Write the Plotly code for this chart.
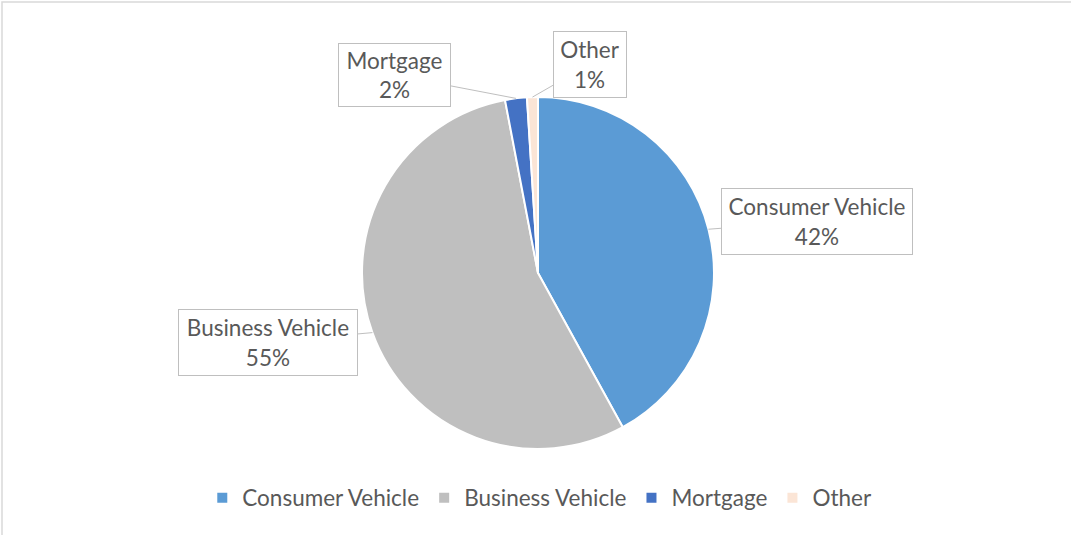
import math
import plotly.graph_objects as go

# Loan portfolio composition
categories = ["Consumer Vehicle", "Business Vehicle", "Mortgage", "Other"]
shares = [42, 55, 2, 1]
colors = ["#5B9BD5", "#BFBFBF", "#4472C4", "#FBE5D6"]

W, H = 1071, 535
FONT = "Lato"
FONT_SIZE = 22.5
TEXT_COLOR = "#595959"

# pie placement (pixels)
cx, cy, r = 538, 273, 176

# callout box centres and sizes (pixels)
label_boxes = {
    "Consumer Vehicle": (817, 221, 192, 67),
    "Business Vehicle": (268, 342, 180, 67),
    "Mortgage": (394, 75, 113, 64),
    "Other": (590, 64, 74, 67),
}

fig = go.Figure(
    go.Pie(
        labels=categories,
        values=shares,
        sort=False,
        direction="clockwise",
        rotation=0,
        marker=dict(colors=colors, line=dict(color="white", width=2)),
        textinfo="none",
        hoverinfo="label+percent",
        domain=dict(x=[(cx - r) / W, (cx + r) / W],
                    y=[(H - cy - r) / H, (H - cy + r) / H]),
    )
)

# callout labels with leader lines pointing at each slice's mid-angle
total = sum(shares)
cum = 0.0
annotations = []
for name, v in zip(categories, shares):
    mid = (cum + v / 2) / total * 2 * math.pi
    cum += v
    tx = cx + r * math.sin(mid)
    ty = cy - r * math.cos(mid)
    bx, by, bw, bh = label_boxes[name]
    pct = round(v / total * 100)
    annotations.append(dict(
        x=tx / W, y=1 - ty / H, xref="paper", yref="paper",
        ax=bx - tx, ay=by - ty, axref="pixel", ayref="pixel",
        text=f"{name}<br>{pct}%",
        showarrow=True, arrowhead=0, arrowwidth=1, arrowcolor="#BFBFBF",
        standoff=0, startstandoff=0,
        bgcolor="white", bordercolor="#BFBFBF", borderwidth=1, borderpad=3,
        width=bw - 8, height=bh - 8, align="center", valign="middle",
        font=dict(family=FONT, size=FONT_SIZE, color=TEXT_COLOR),
    ))

fig.update_layout(
    width=W, height=H,
    margin=dict(l=0, r=0, t=0, b=0),
    paper_bgcolor="white",
    plot_bgcolor="white",
    annotations=annotations,
    showlegend=True,
    legend=dict(
        orientation="h", x=0.504, xanchor="center", y=0.069, yanchor="middle",
        font=dict(family=FONT, size=FONT_SIZE, color=TEXT_COLOR),
        traceorder="normal", itemwidth=30,
    ),
    shapes=[dict(type="rect", xref="paper", yref="paper",
                 x0=2 / W, y0=-0.02, x1=1.02, y1=1 - 2 / H,
                 line=dict(color="#D9D9D9", width=1.5))],
)

fig.write_html("out.html")
